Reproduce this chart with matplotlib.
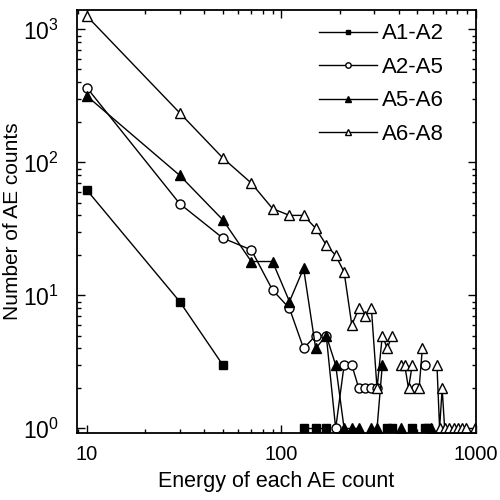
import numpy as np
import matplotlib
matplotlib.use("Agg")
import matplotlib.pyplot as plt
from matplotlib.ticker import FuncFormatter

plt.rcParams['font.family'] = ['Liberation Sans', 'DejaVu Sans']
plt.rcParams['mathtext.fontset'] = 'custom'
plt.rcParams['mathtext.rm'] = 'Liberation Sans'
plt.rcParams['mathtext.it'] = 'Liberation Sans:italic'
plt.rcParams['mathtext.bf'] = 'Liberation Sans:bold'

# energy bins (width 20), counts per bin; 0 = no count (not drawn on log axis)
energy = np.arange(10, 1000, 20)

a1_a2 = [62, 9, 3, 0, 0, 0, 1, 1, 1, 0,
         0, 0, 0, 0, 0, 0, 0, 1, 1, 0,
         0, 0, 0, 1, 0, 0, 0, 1, 1, 0] + [0] * 20
a2_a5 = [365, 49, 27, 22, 11, 8, 4, 5, 5, 1,
         3, 3, 2, 2, 2, 2, 0, 0, 0, 0,
         0, 0, 0, 0, 2, 0, 0, 3, 0, 0] + [0] * 20
a5_a6 = [316, 80, 37, 18, 18, 9, 16, 4, 5, 3,
         1, 1, 1, 0, 1, 1, 3, 0, 0, 0,
         1, 0, 0, 0, 0, 0, 0, 0, 0, 1] + [0] * 20
a6_a8 = [1260, 236, 108, 70, 45, 40, 40, 32, 24, 20,
         15, 6, 8, 7, 8, 2, 5, 4, 5, 0,
         3, 3, 2, 3, 0, 2, 4, 0, 0, 0,
         0, 3, 1, 2, 1, 0, 1, 0, 1, 0,
         1, 0, 1, 0, 1, 0, 0, 0, 0, 1]

labels = ["A1-A2", "A2-A5", "A5-A6", "A6-A8"]

fig = plt.figure(figsize=(5, 5), dpi=100)
ax = fig.add_axes([0.154, 0.134, 0.798, 0.846])
ax.set_xscale('log', nonpositive='mask')
ax.set_yscale('log', nonpositive='mask')

ax.plot(energy, a1_a2, '-s', color='k', lw=1, ms=5.5, mfc='k', label=labels[0])
ax.plot(energy, a2_a5, '-o', color='k', lw=1, ms=6.5, mfc='w', label=labels[1])
ax.plot(energy, a5_a6, '-^', color='k', lw=1, ms=7, mfc='k', label=labels[2])
ax.plot(energy, a6_a8, '-^', color='k', lw=1, ms=7, mfc='w', label=labels[3])

ax.set_xlim(8.9, 1000)
ax.set_ylim(0.925, 1400)
ax.xaxis.set_major_formatter(FuncFormatter(lambda v, p: "%g" % v))

ax.tick_params(which='both', direction='in', top=True, right=True, width=1)
ax.tick_params(which='major', length=6)
ax.tick_params(which='minor', length=3)
ax.tick_params(axis='x', which='major', labelsize=14.5, pad=9)
ax.tick_params(axis='y', which='major', labelsize=16.5, pad=13)
for s in ax.spines.values():
    s.set_linewidth(1.3)

ax.set_xlabel("Energy of each AE count", fontsize=15.5, labelpad=5)
ax.set_ylabel("Number of AE counts", fontsize=15)
ax.yaxis.set_label_coords(-0.137, 0.5)

ax.legend(loc='upper right', bbox_to_anchor=(0.958, 1.005), frameon=False,
          fontsize=16, markerscale=0.6, handlelength=2.6, handletextpad=0.2,
          labelspacing=0.56, borderaxespad=0.3)

fig.savefig("out.png", dpi=100)
